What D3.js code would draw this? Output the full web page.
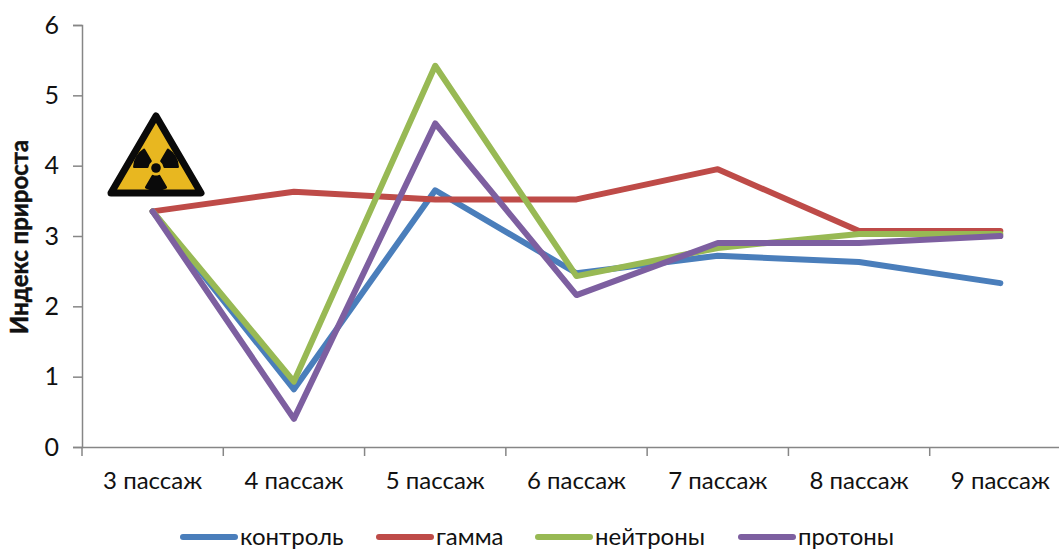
<!DOCTYPE html>
<html>
<head>
<meta charset="utf-8">
<script src="https://cdn.jsdelivr.net/npm/d3@7"></script>
<style>
html,body{margin:0;padding:0;background:#fff}
svg{display:block}
text{font-family:Lato,"Open Sans","Noto Sans",sans-serif;fill:#111}
</style>
</head>
<body>
<svg id="chart" width="1059" height="550"></svg>
<script>
const categories = ["3 пассаж","4 пассаж","5 пассаж","6 пассаж","7 пассаж","8 пассаж","9 пассаж"];
const control = [3.35,0.82,3.65,2.47,2.72,2.63,2.33];
const gamma = [3.35,3.63,3.52,3.52,3.95,3.07,3.07];
const neutrons = [3.35,0.93,5.42,2.43,2.83,3.03,3.03];
const protons = [3.35,0.40,4.60,2.16,2.90,2.90,3.00];
const seriesNames = ["контроль","гамма","нейтроны","протоны"];
const seriesColors = ["#4a7ebb","#be4b48","#98b954","#7d5fa0"];
const yTicks = [0,1,2,3,4,5,6];
const yTitle = "Индекс прироста";

const svg = d3.select("#chart");
const x = d3.scaleBand().domain(categories).range([82,1071]);
const y = d3.scaleLinear().domain([0,6]).range([447,25]);
const gridGrey = "#868686";
const labelSize = "24px";

// Axes
const yAxis = svg.append("g").attr("transform","translate(82,0)")
  .call(d3.axisLeft(y).tickValues(yTicks).tickSize(9).tickPadding(14).tickFormat(d3.format("d")));
const xAxis = svg.append("g").attr("transform","translate(0,447)")
  .call(d3.axisBottom(x).tickSize(0).tickPadding(25));
x.domain().forEach(c=>{
  xAxis.append("line").attr("x1",x(c)).attr("x2",x(c)).attr("y1",0).attr("y2",9);
});
for (const g of [xAxis,yAxis]) {
  g.selectAll("path,line").attr("stroke",gridGrey).attr("stroke-width",1.5);
  g.selectAll("text").style("font-size",labelSize).attr("fill","#111");
  g.select(".domain").attr("stroke",gridGrey);
}
yAxis.selectAll("text").style("font-size","25px");

svg.append("text")
  .attr("transform","translate(28,237) rotate(-90)")
  .attr("text-anchor","middle")
  .style("font-size","24px").style("font-weight","700")
  .attr("stroke","#111").attr("stroke-width",0.5)
  .text(yTitle);

// Series lines
const line = d3.line().x((d,i)=>x(categories[i])+x.bandwidth()/2).y(d=>y(d));
[control,gamma,neutrons,protons].forEach((vals,i)=>{
  svg.append("path").datum(vals).attr("d",line).attr("fill","none")
    .attr("stroke",seriesColors[i]).attr("stroke-width",6)
    .attr("stroke-linejoin","round").attr("stroke-linecap","round");
});

// Legend
const legendX = [183,379,538,741];
seriesNames.forEach((n,i)=>{
  const g = svg.append("g").attr("transform",`translate(${legendX[i]},537)`);
  g.append("line").attr("x1",0).attr("x2",52).attr("stroke",seriesColors[i])
    .attr("stroke-width",6).attr("stroke-linecap","round");
  g.append("text").attr("x",57).attr("y",8).style("font-size",labelSize).text(n);
});

// Radiation warning sign
const sign = svg.append("g").attr("transform","translate(156,154)");
sign.append("path").attr("d","M0,-38 L45,39 L-45,39 Z")
  .attr("fill","#e8b720").attr("stroke","#0a0a0a").attr("stroke-width",7).attr("stroke-linejoin","round");
const blade = d3.arc().innerRadius(7.5).outerRadius(23).cornerRadius(1.2);
[0,120,240].forEach(a=>{
  const c = a*Math.PI/180;
  sign.append("path")
    .attr("d",blade({startAngle:c+Math.PI*5/6,endAngle:c+Math.PI*7/6}))
    .attr("transform","translate(0,14)").attr("fill","#0a0a0a");
});
sign.append("circle").attr("cy",14).attr("r",4.8).attr("fill","#0a0a0a");
</script>
</body>
</html>
